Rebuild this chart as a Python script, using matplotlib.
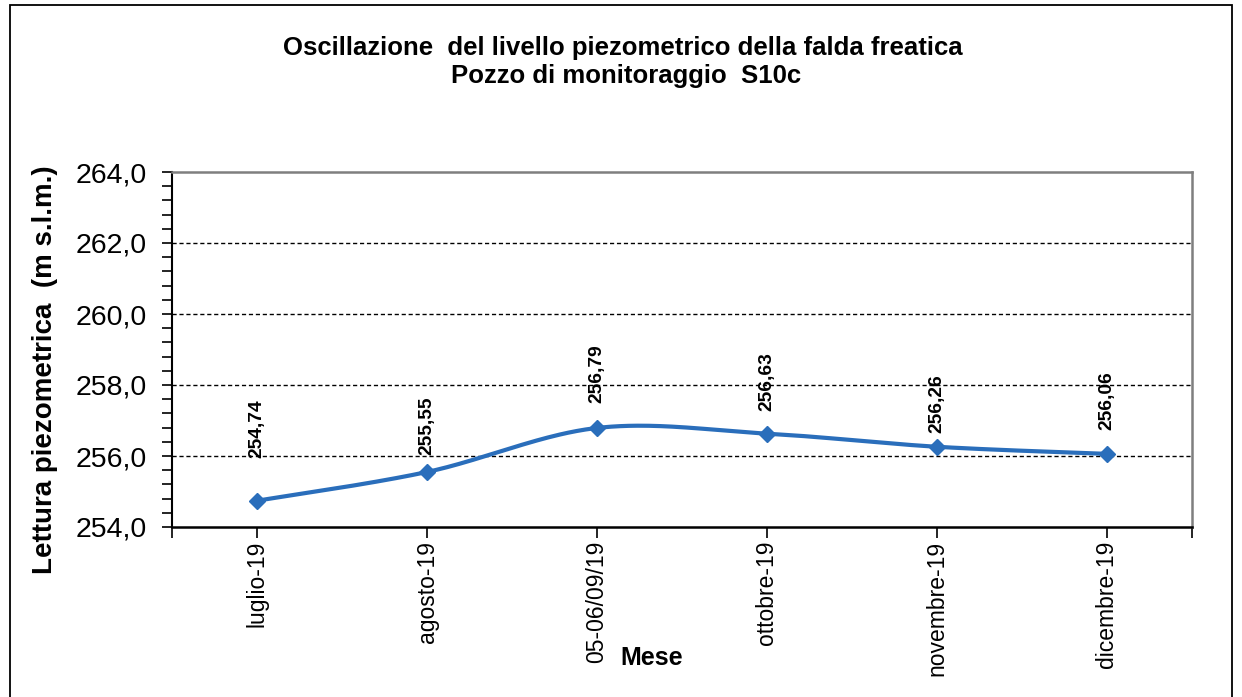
import numpy as np
import matplotlib
matplotlib.use("Agg")
import matplotlib.pyplot as plt
from matplotlib.patches import Rectangle
from matplotlib.ticker import MultipleLocator, FixedLocator

# ---- data ----
categories = ["luglio-19", "agosto-19", "05-06/09/19", "ottobre-19", "novembre-19", "dicembre-19"]
levels = [254.74, 255.55, 256.79, 256.63, 256.26, 256.06]
value_labels = ["254,74", "255,55", "256,79", "256,63", "256,26", "256,06"]
label_offsets_pt = [31, 12, 18, 16, 10, 17]   # vertical offset of each data label (points)

title_lines = ["Oscillazione  del livello piezometrico della falda freatica",
               "Pozzo di monitoraggio  S10c"]
ylabel = "Lettura piezometrica  (m s.l.m.)"
xlabel = "Mese"
y_ticks = [254, 256, 258, 260, 262, 264]

plt.rcParams['font.family'] = ['Liberation Sans', 'DejaVu Sans']

W, H = 1242, 697
fig = plt.figure(figsize=(W / 100, H / 100), dpi=100)
fig.patch.set_facecolor("white")

# outer chart border
fig.add_artist(Rectangle((10 / W, -0.05), (1232 - 10) / W, (H - 5) / H + 0.05,
                         transform=fig.transFigure, fill=False, edgecolor="black",
                         linewidth=1.3))

ax = fig.add_axes([172 / W, 1 - 527 / H, (1192 - 172) / W, (527 - 172) / H])

x = np.arange(len(levels))
y = np.array(levels)

# Excel-like smoothed line (Catmull-Rom -> cubic Bezier)
def smooth(xs, ys, n=60):
    px = np.concatenate([[xs[0]], xs, [xs[-1]]])
    py = np.concatenate([[ys[0]], ys, [ys[-1]]])
    ox, oy = [], []
    t = np.linspace(0, 1, n)
    for i in range(1, len(px) - 2):
        p0 = np.array([px[i - 1], py[i - 1]]); p1 = np.array([px[i], py[i]])
        p2 = np.array([px[i + 1], py[i + 1]]); p3 = np.array([px[i + 2], py[i + 2]])
        c1 = p1 + (p2 - p0) / 6.0
        c2 = p2 - (p3 - p1) / 6.0
        b = ((1 - t) ** 3)[:, None] * p1 + (3 * (1 - t) ** 2 * t)[:, None] * c1 \
            + (3 * (1 - t) * t ** 2)[:, None] * c2 + (t ** 3)[:, None] * p2
        ox.extend(b[:, 0]); oy.extend(b[:, 1])
    return np.array(ox), np.array(oy)

sx, sy = smooth(x.astype(float), y)
line_color = "#2A6EBB"
ax.plot(sx, sy, color=line_color, linewidth=3.0, solid_capstyle="round", zorder=3)
ax.plot(x, y, linestyle="none", marker="D", markersize=8, color=line_color,
        markeredgecolor=line_color, zorder=4)

for xi, yi, lab, off in zip(x, y, value_labels, label_offsets_pt):
    ax.annotate(lab, (xi, yi), xytext=(0, off), textcoords="offset points",
                rotation=90, ha="center", va="bottom", fontsize=13.8,
                fontweight="bold", color="black", zorder=5)

ax.set_xlim(-0.5, len(categories) - 0.5)
ax.set_ylim(254, 264)

ax.set_yticks(y_ticks)
ax.set_yticklabels([f"{v:.1f}".replace(".", ",") for v in y_ticks], fontsize=20.5)
ax.yaxis.set_minor_locator(MultipleLocator(0.4))
ax.tick_params(axis="y", which="both", direction="out", length=7, width=1.2,
               color="black", pad=11)

ax.set_xticks(x)
ax.set_xticklabels(categories, rotation=90, fontsize=16.5, va="top")
ax.xaxis.set_minor_locator(FixedLocator([-0.5, len(categories) - 0.5]))
ax.tick_params(axis="x", which="both", direction="out", length=8, width=1.2,
               color="black", pad=2)

for g in [256, 258, 260, 262]:
    ax.axhline(g, color="black", linestyle=(0, (3, 2)), linewidth=1.0, zorder=1)

ax.spines["left"].set_color("black")
ax.spines["bottom"].set_color("black")
ax.spines["left"].set_linewidth(1.5)
ax.spines["bottom"].set_linewidth(1.8)
ax.spines["top"].set_color("#7f7f7f")
ax.spines["right"].set_color("#7f7f7f")
ax.spines["top"].set_linewidth(1.8)
ax.spines["right"].set_linewidth(1.8)

fig.text(45 / W, 1 - 370 / H, ylabel, rotation=90, ha="center", va="center",
         fontsize=20, fontweight="bold")

fig.text(652 / W, 1 - 658 / H, xlabel, ha="center", va="center", fontsize=18,
         fontweight="bold")

fig.text(623 / W, 1 - 48 / H, title_lines[0], ha="center", va="center",
         fontsize=18.5, fontweight="bold")
fig.text(626 / W, 1 - 76 / H, title_lines[1], ha="center", va="center",
         fontsize=18.5, fontweight="bold")

fig.savefig("out.png", dpi=100, facecolor="white")
